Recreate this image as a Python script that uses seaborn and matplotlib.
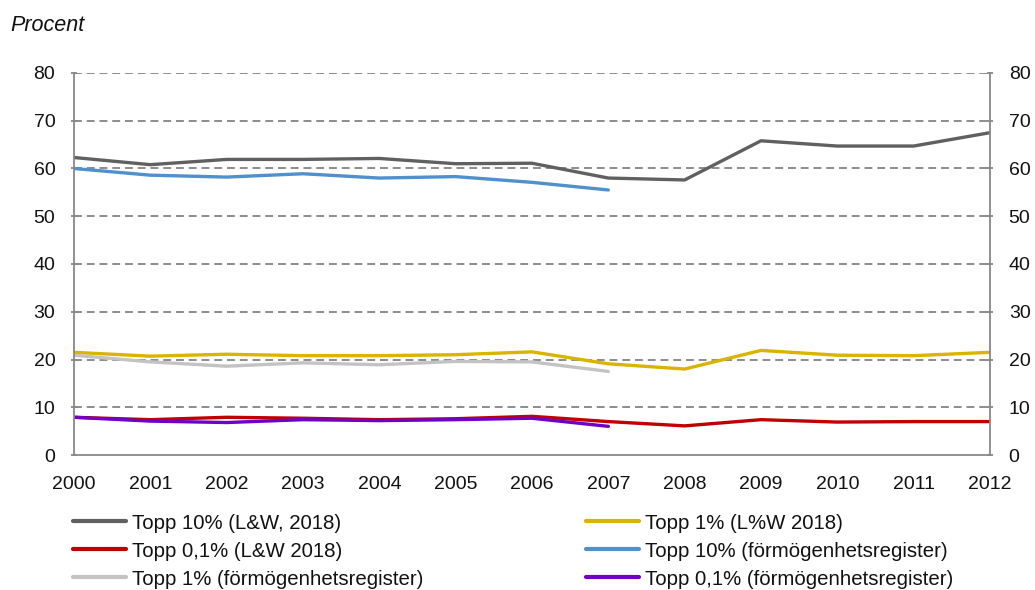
import matplotlib
matplotlib.use("Agg")
import matplotlib.pyplot as plt
from matplotlib.lines import Line2D
import seaborn as sns
import pandas as pd

# Wealth share of top groups, Sweden, per cent
years = list(range(2000, 2013))
years_reg = list(range(2000, 2008))

top10_lw = [62.3, 60.8, 61.9, 61.9, 62.1, 61.0, 61.1, 58.0, 57.6, 65.8, 64.7, 64.7, 67.5]
top1_lw = [21.5, 20.7, 21.1, 20.8, 20.8, 21.0, 21.6, 19.1, 18.0, 21.9, 20.9, 20.8, 21.5]
top01_lw = [7.9, 7.4, 7.9, 7.7, 7.4, 7.6, 8.1, 7.0, 6.1, 7.4, 6.9, 7.0, 7.0]
top10_reg = [60.0, 58.6, 58.2, 58.9, 58.0, 58.3, 57.1, 55.5]
top1_reg = [20.9, 19.5, 18.6, 19.3, 18.9, 19.6, 19.5, 17.5]
top01_reg = [7.9, 7.1, 6.8, 7.4, 7.2, 7.4, 7.7, 6.0]

labels = [
    "Topp 10% (L&W, 2018)",
    "Topp 1% (L%W 2018)",
    "Topp 0,1% (L&W 2018)",
    "Topp 10% (förmögenhetsregister)",
    "Topp 1% (förmögenhetsregister)",
    "Topp 0,1% (förmögenhetsregister)",
]
colors = ["#606060", "#D9B400", "#C00000", "#4F90CD", "#C3C3C3", "#6E00C8"]

series = [
    (years, top10_lw),
    (years, top1_lw),
    (years, top01_lw),
    (years_reg, top10_reg),
    (years_reg, top1_reg),
    (years_reg, top01_reg),
]
frames = []
for lab, (xs, ys) in zip(labels, series):
    frames.append(pd.DataFrame({"År": xs, "Procent": ys, "Serie": lab}))
df = pd.concat(frames, ignore_index=True)

sns.set_theme(style="white")
plt.rcParams["font.family"] = ["Liberation Sans", "DejaVu Sans"]

fig = plt.figure(figsize=(10.35, 5.9), dpi=100)
ax = fig.add_axes([0.0715, 0.2288, 0.8850, 0.6475])

sns.lineplot(data=df, x="År", y="Procent", hue="Serie", hue_order=labels,
             palette=dict(zip(labels, colors)), linewidth=2.4, ax=ax,
             legend=False, sort=False)

ax.set_xlim(2000, 2012)
ax.set_ylim(0, 80)
ax.set_xticks(years)
ax.set_xticklabels([str(y) for y in years])
ax.set_yticks(range(0, 81, 10))
ax.set_xlabel("")
ax.set_ylabel("")

grid_color = "#888888"
for v in range(10, 81, 10):
    ax.axhline(v, color=grid_color, linewidth=1.35, linestyle=(0, (4.2, 2.6)), zorder=0.5)

for side in ["left", "right", "bottom"]:
    ax.spines[side].set_visible(True)
    ax.spines[side].set_color(grid_color)
    ax.spines[side].set_linewidth(1.3)
ax.spines["top"].set_visible(False)

ax.tick_params(axis="y", which="both", left=True, right=True, labelleft=True,
               labelright=True, length=5, width=1.3, color=grid_color,
               direction="inout", labelsize=14, pad=11, labelcolor="#111111")
ax.tick_params(axis="x", bottom=False, labelsize=14, pad=9, labelcolor="#111111")

fig.text(0.0097, 0.957, "Procent", fontsize=15.5, style="italic", color="#111111",
         ha="left", va="center")

# Legend in two columns, each drawn as its own legend
handles = [Line2D([0], [0], color=c, linewidth=3) for c in colors]
columns = [([0, 2, 4], 0.0705), ([1, 3, 5], 0.5662)]
for idx, x0 in columns:
    leg = fig.legend([handles[i] for i in idx], [labels[i] for i in idx],
                     loc="upper left", bbox_to_anchor=(x0, 0.1295),
                     frameon=False, fontsize=14.7, handlelength=2.6,
                     handletextpad=0.3, labelspacing=0.44,
                     borderaxespad=0, borderpad=0)
    for t in leg.get_texts():
        t.set_color("#111111")

fig.savefig("out.png", dpi=100)
